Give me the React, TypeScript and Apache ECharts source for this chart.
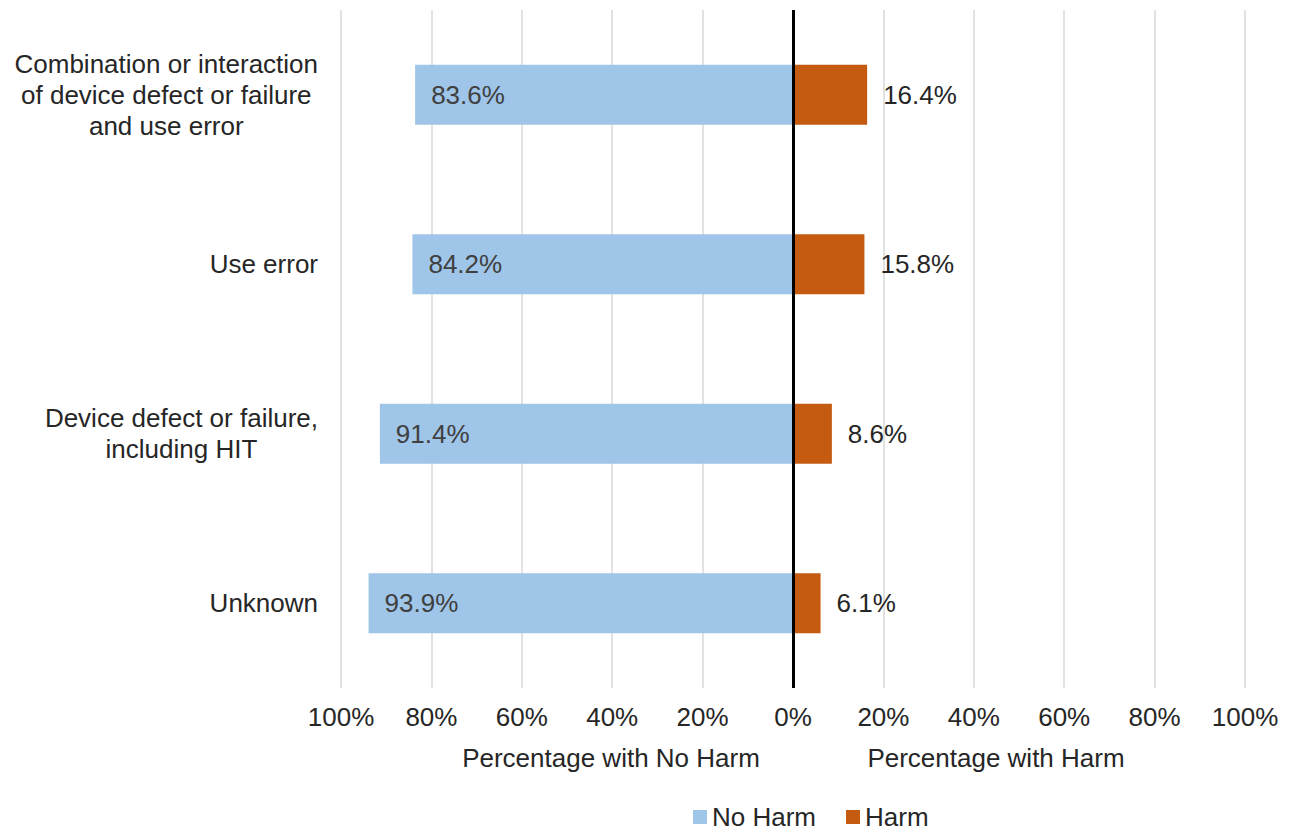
import React, { useEffect, useRef } from "react";
import * as echarts from "echarts";

// Share of reports with / without harm, by contributing factor
const categories = [
  "Combination or interaction\nof device defect or failure\nand use error",
  "Use error",
  "Device defect or failure,\nincluding HIT",
  "Unknown",
];
const noHarm = [83.6, 84.2, 91.4, 93.9];
const harm = [16.4, 15.8, 8.6, 6.1];
const xTicks = [-100, 100, 20]; // min, max, interval
const axisTitles = ["Percentage with No Harm", "Percentage with Harm"];

const FONT = "Arial, 'Liberation Sans', sans-serif";
const BLUE = "#9FC5E8";
const ORANGE = "#C55A11";

export default function App() {
  const ref = useRef<HTMLDivElement>(null);

  useEffect(() => {
    if (!ref.current) return;
    const chart = echarts.init(ref.current, null, { renderer: "svg" });

    chart.setOption({
      animation: false,
      textStyle: { fontFamily: FONT },
      grid: { left: 341, right: 44, top: 10, bottom: 143, containLabel: false },
      legend: {
        left: 693,
        top: 804,
        padding: 0,
        itemWidth: 14,
        itemHeight: 14,
        itemGap: 30,
        icon: "rect",
        textStyle: { fontSize: 26, lineHeight: 26, color: "#262626", fontFamily: FONT },
        data: ["No Harm", "Harm"],
      },
      xAxis: {
        type: "value",
        min: xTicks[0],
        max: xTicks[1],
        interval: xTicks[2],
        axisLine: { show: false },
        axisTick: { show: false },
        splitLine: { show: true, lineStyle: { color: "#D9D9D9", width: 1.5 } },
        axisLabel: {
          margin: 16,
          fontSize: 26,
          color: "#262626",
          formatter: (v: number) => `${Math.abs(v)}%`,
        },
      },
      yAxis: {
        type: "category",
        inverse: true,
        data: categories,
        axisLine: { show: false, onZero: false },
        axisTick: { show: false },
        axisLabel: {
          margin: 23,
          fontSize: 26,
          color: "#262626",
          formatter: (v: string) =>
            v
              .split("\n")
              .map((l) => `{c|${l}}`)
              .join("\n"),
          rich: {
            c: { align: "center", fontSize: 26, lineHeight: 31, color: "#262626", fontFamily: FONT },
          },
        },
      },
      series: [
        {
          name: "No Harm",
          type: "bar",
          stack: "total",
          barWidth: 60,
          data: noHarm.map((v) => -v),
          itemStyle: { color: BLUE },
          label: {
            show: true,
            position: "insideLeft",
            distance: 16,
            fontSize: 26,
            color: "#404040",
            fontFamily: FONT,
            formatter: (p: any) => `${Math.abs(p.value).toFixed(1)}%`,
          },
          markLine: {
            silent: true,
            symbol: "none",
            label: { show: false },
            lineStyle: { color: "#000000", width: 3, type: "solid" },
            data: [{ xAxis: 0 }],
          },
        },
        {
          name: "Harm",
          type: "bar",
          stack: "total",
          barWidth: 60,
          data: harm,
          itemStyle: { color: ORANGE },
          label: {
            show: true,
            position: "right",
            distance: 16,
            fontSize: 26,
            color: "#262626",
            fontFamily: FONT,
            formatter: (p: any) => `${Number(p.value).toFixed(1)}%`,
          },
        },
      ],
      graphic: [
        {
          type: "text",
          x: 611,
          y: 758,
          style: {
            text: axisTitles[0],
            fontSize: 26,
            fill: "#262626",
            fontFamily: FONT,
            align: "center",
            verticalAlign: "middle",
          },
        },
        {
          type: "text",
          x: 996,
          y: 758,
          style: {
            text: axisTitles[1],
            fontSize: 26,
            fill: "#262626",
            fontFamily: FONT,
            align: "center",
            verticalAlign: "middle",
          },
        },
      ],
    });

    return () => chart.dispose();
  }, []);

  return (
    <div
      ref={ref}
      style={{ position: "fixed", left: 0, top: 0, width: 1289, height: 831, background: "#ffffff" }}
    />
  );
}
